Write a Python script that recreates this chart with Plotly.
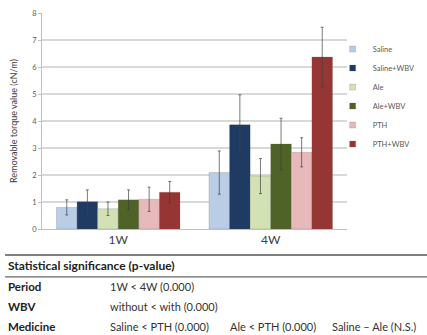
import plotly.graph_objects as go

periods = ["1W", "4W"]
groups = ["Saline", "Saline+WBV", "Ale", "Ale+WBV", "PTH", "PTH+WBV"]
colors = ["#B9CDE5", "#1F3A63", "#D2E2B4", "#4F6228", "#E8B9BA", "#963634"]
means = {
    "Saline": [0.80, 2.09],
    "Saline+WBV": [1.01, 3.86],
    "Ale": [0.75, 1.96],
    "Ale+WBV": [1.08, 3.15],
    "PTH": [1.10, 2.84],
    "PTH+WBV": [1.36, 6.37],
}
errors = {
    "Saline": [0.28, 0.80],
    "Saline+WBV": [0.44, 1.11],
    "Ale": [0.25, 0.65],
    "Ale+WBV": [0.37, 0.95],
    "PTH": [0.45, 0.54],
    "PTH+WBV": [0.40, 1.10],
}
y_ticks = [0, 1, 2, 3, 4, 5, 6, 7, 8]
stat_title = "Statistical significance (p-value)"
stat_rows = [
    ("Period", ["1W < 4W (0.000)"]),
    ("WBV", ["without < with (0.000)"]),
    ("Medicine", ["Saline < PTH (0.000)", "Ale < PTH (0.000)", "Saline \u2013 Ale (N.S.)"]),
]

FONT = "Lato, Open Sans, Liberation Sans, sans-serif"

fig = go.Figure()
for g, c in zip(groups, colors):
    fig.add_trace(go.Bar(
        x=periods, y=means[g], name=g, marker_color=c,
        marker_line=dict(color="rgba(90,90,90,0.35)", width=0.6),
        error_y=dict(type="data", array=errors[g], color="#404040", thickness=0.7, width=1.5),
        showlegend=False, legendgroup=g,
    ))
    fig.add_trace(go.Scatter(
        x=[None], y=[None], mode="markers", name=g, legendgroup=g,
        marker=dict(symbol="square", size=6, color=c, line=dict(color="rgba(90,90,90,0.4)", width=0.5)),
    ))

fig.update_layout(
    width=427, height=335,
    margin=dict(l=42, r=80, t=13, b=106, autoexpand=False),
    paper_bgcolor="white", plot_bgcolor="white",
    barmode="group", bargap=0.19, bargroupgap=0,
    font=dict(family=FONT, color="#404040"),
    legend=dict(x=0.953, y=0.90, xanchor="left", yanchor="top",
                font=dict(size=7.5, color="#595959"), itemwidth=30,
                tracegroupgap=0, bgcolor="rgba(0,0,0,0)"),
    xaxis=dict(showline=True, linecolor="#BFBFBF", linewidth=1, ticks="",
               tickfont=dict(size=12, color="#404040")),
    yaxis=dict(range=[0, 8], tickvals=y_ticks, showgrid=True, gridcolor="#D9D9D9",
               gridwidth=1.5, showline=True, linecolor="#BFBFBF", linewidth=1,
               ticks="outside", ticklen=3, tickcolor="#BFBFBF",
               tickfont=dict(size=7.5, color="#595959"), zeroline=False,
               title=dict(text="Removable torque value (cN/m)", font=dict(size=9, color="#404040"), standoff=12)),
)

# Table below the chart
fig.add_shape(type="line", xref="paper", yref="paper", x0=-0.121, x1=1.27, y0=-0.120, y1=-0.120,
              line=dict(color="#555555", width=1.5))
fig.add_shape(type="line", xref="paper", yref="paper", x0=-0.121, x1=1.27, y0=-0.222, y1=-0.222,
              line=dict(color="#666666", width=1.2))
fig.add_annotation(text="<b>" + stat_title + "</b>", xref="paper", yref="paper", x=-0.118, y=-0.170,
                   xanchor="left", yanchor="middle", showarrow=False, font=dict(size=12, color="#222222"))
row_y = [-0.267, -0.360, -0.452]
col_x = [0.218, 0.611, 0.943]
for (label, items), yy in zip(stat_rows, row_y):
    fig.add_annotation(text="<b>" + label + "</b>", xref="paper", yref="paper", x=-0.118, y=yy,
                       xanchor="left", yanchor="middle", showarrow=False, font=dict(size=11.5, color="#222222"))
    for it, xx in zip(items, col_x):
        fig.add_annotation(text=it, xref="paper", yref="paper", x=xx, y=yy,
                           xanchor="left", yanchor="middle", showarrow=False, font=dict(size=11, color="#333333"))

fig.write_html("out.html", config={"displayModeBar": False},
               post_script="document.body.style.margin='0px';")
